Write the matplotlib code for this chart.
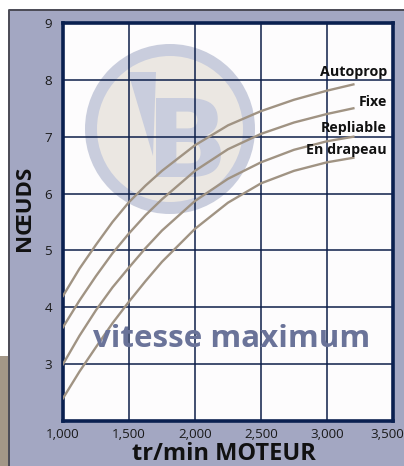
import matplotlib.pyplot as plt
from matplotlib.patches import Rectangle, Circle, Polygon

# values
rpm = [1000, 1125, 1250, 1375, 1500, 1625, 1750, 2000, 2250, 2500, 2750, 3000, 3200]
autoprop = [4.2, 4.68, 5.1, 5.5, 5.85, 6.14, 6.4, 6.85, 7.2, 7.45, 7.65, 7.81, 7.92]
fixe = [3.65, 4.12, 4.55, 4.95, 5.3, 5.62, 5.9, 6.4, 6.78, 7.05, 7.25, 7.4, 7.5]
repliable = [3.0, 3.5, 3.95, 4.35, 4.7, 5.04, 5.35, 5.87, 6.26, 6.55, 6.77, 6.92, 7.0]
drapeau = [2.4, 2.87, 3.3, 3.72, 4.1, 4.46, 4.8, 5.38, 5.84, 6.18, 6.4, 6.55, 6.63]

x_ticks = [1000, 1500, 2000, 2500, 3000, 3500]
x_labels = ["1,000", "1,500", "2,000", "2,500", "3,000", "3,500"]
y_ticks = [3, 4, 5, 6, 7, 8, 9]
names = ["Autoprop", "Fixe", "Repliable", "En drapeau"]
label_y = [8.14, 7.61, 7.16, 6.77]

W, H = 404, 466
fig = plt.figure(figsize=(W / 100, H / 100), dpi=100)
fig.patch.set_facecolor("white")

# background panel + tan strip
fig.patches.append(Rectangle((9 / W, 0), 1 - 9 / W, 1 - 10 / H, transform=fig.transFigure,
                             facecolor="#a3a7c2", edgecolor="none", zorder=0))
fig.lines.append(plt.Line2D([9 / W, 9 / W, 1], [0, 1 - 10 / H, 1 - 10 / H], transform=fig.transFigure,
                            color="#4a4a55", lw=1.4, zorder=1))
fig.patches.append(Rectangle((0, 0), 8 / W, 110 / H, transform=fig.transFigure,
                             facecolor="#a39787", edgecolor="none", zorder=0))

rect = [63 / W, (H - 421) / H, 330 / W, 398 / H]

# white plot area with the watermark logo, in pixel units
bg = fig.add_axes(rect, zorder=1)
bg.set_xlim(63, 393)
bg.set_ylim(421, 23)
bg.axis("off")
bg.add_patch(Rectangle((63, 23), 330, 398, facecolor="#fdfcfd", edgecolor="none"))
ring = "#c9cddd"
bg.add_patch(Circle((170, 129), 85, facecolor=ring, edgecolor="none"))
inner = Circle((170, 129), 73, facecolor="#ebe7e2", edgecolor="none")
bg.add_patch(inner)
b = bg.text(146, 177, "B", fontsize=78, fontweight="bold", family="DejaVu Sans",
            color=ring, ha="left", va="baseline")
b.set_clip_path(inner)
tri = Polygon([(128, 72), (156, 72), (153, 156)], facecolor=ring, edgecolor="none")
bg.add_patch(tri)

ax = fig.add_axes(rect, zorder=2)
ax.set_facecolor("none")
for ys in [autoprop, fixe, repliable, drapeau]:
    ax.plot(rpm, ys, color="#a09383", lw=1.7, solid_joinstyle="round", zorder=3)

ax.set_xlim(1000, 3500)
ax.set_ylim(2, 9)
ax.set_xticks(x_ticks)
ax.set_xticklabels([])
ax.set_yticks(y_ticks)
ax.tick_params(length=0, labelsize=9.6, labelcolor="#1a1a1a")
ax.tick_params(axis="y", pad=8)
for t in ax.get_yticklabels():
    t.set_family("Open Sans")

# x tick labels drawn by hand so the last one can sit inside the figure
xform = ax.get_xaxis_transform()
for i, (xv, lab) in enumerate(zip(x_ticks, x_labels)):
    dx = -6 if i == len(x_ticks) - 1 else 0
    ax.annotate(lab, (xv, 0), xycoords=xform, xytext=(dx, -7), textcoords="offset pixels",
                ha="center", va="top", fontsize=9.6, family="Open Sans", color="#1a1a1a",
                annotation_clip=False)

ax.grid(True, color="#0d1f4a", lw=1.1)
ax.set_axisbelow(True)
for s in ax.spines.values():
    s.set_color("#0a2050")
    s.set_linewidth(2.6)

for name, yy in zip(names, label_y):
    ax.text(3455, yy, name, ha="right", va="center", fontsize=10.3, fontweight="bold",
            family="Open Sans", color="#111111", zorder=4)

ax.text(2280, 3.30, "vitesse maximum", ha="center", va="baseline", fontsize=22.5,
        fontweight="bold", family="Open Sans", color="#6a7399", zorder=4)

fig.text(25 / W, 1 - 208 / H, "NŒUDS", rotation=90, ha="center", va="center",
         fontsize=16, fontweight="bold", family="Open Sans", color="#111111")
fig.text(224 / W, 1 - 460 / H, "tr/min MOTEUR", ha="center", va="baseline",
         fontsize=17, fontweight="bold", family="Open Sans", color="#111111")

fig.savefig("out.png", dpi=100)
